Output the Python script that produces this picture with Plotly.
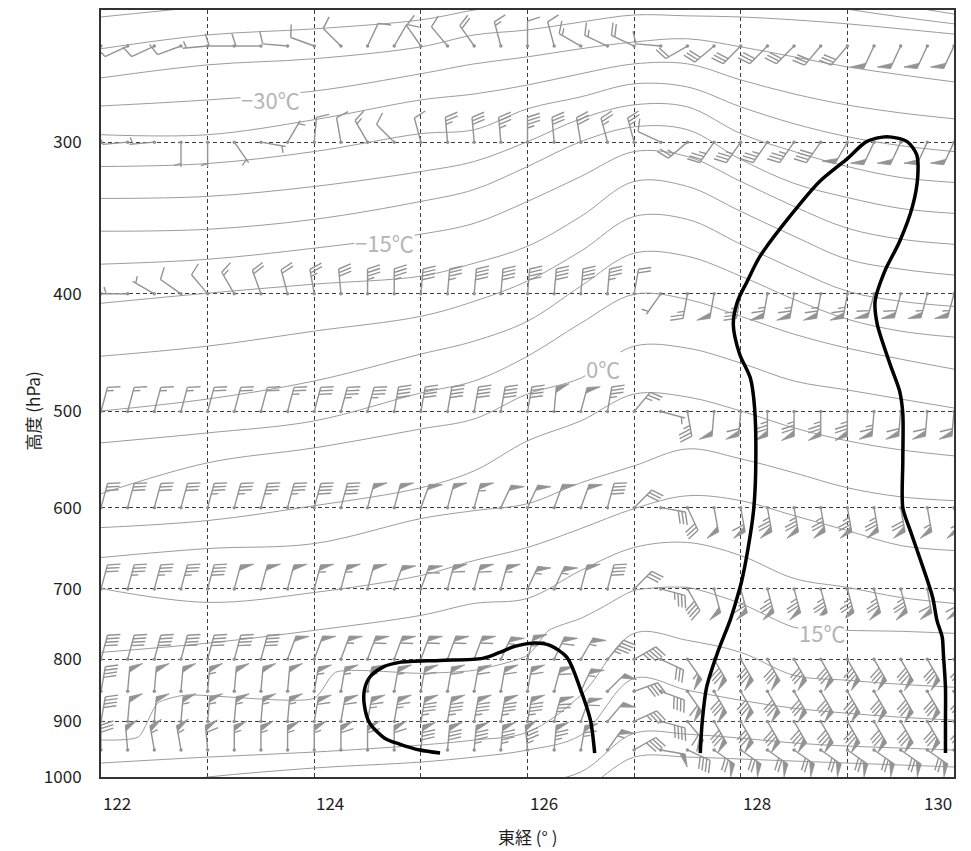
import math
import plotly.graph_objects as go

# ---------------- data ----------------
lon_grid = [122.0, 122.25, 122.5, 122.75, 123.0, 123.25, 123.5, 123.75, 124.0, 124.25, 124.5,
            124.75, 125.0, 125.25, 125.5, 125.75, 126.0, 126.25, 126.5, 126.75, 127.0, 127.25,
            127.5, 127.75, 128.0, 128.25, 128.5, 128.75, 129.0, 129.25, 129.5, 129.75, 130.0]
levels = [250, 300, 400, 500, 600, 700, 800, 850, 900, 950]

# wind barb direction (staff direction on screen, deg clockwise from up) and speed (kt)
dir_250 = [245,245,245,250,265,270,270,275,290,315,25,30,325,320,325,345,0,345,300,295,295,275,240,230,225,225,225,220,220,205,205,205,205]
spd_250 = [10,10,10,10,5,10,10,10,10,10,10,10,10,10,20,15,10,10,15,15,20,10,20,30,30,30,30,30,30,50,50,50,50]
dir_300 = [265,265,265,180,180,145,100,30,5,350,330,315,345,355,355,355,0,355,350,345,345,295,230,215,215,215,215,215,210,205,205,205,205]
spd_300 = [10,10,5,5,5,5,5,5,10,10,15,10,10,25,30,35,35,30,30,25,25,10,25,35,35,35,35,40,50,50,50,50,50]
dir_400 = [270,270,300,305,320,330,340,345,350,355,0,0,5,5,5,5,5,5,5,5,10,215,190,190,190,190,190,190,190,195,195,195,195]
spd_400 = [5,5,5,10,10,15,20,20,25,30,35,35,40,35,40,40,40,40,40,35,20,5,25,50,35,65,65,65,65,60,60,55,55]
dir_500 = [15,15,15,15,15,15,15,15,15,15,15,10,10,10,10,10,10,5,15,10,40,105,170,185,185,180,180,180,180,185,185,185,185]
spd_500 = [15,15,15,15,20,20,20,25,30,35,35,40,40,40,40,40,40,50,50,35,25,5,35,50,60,75,75,75,75,65,60,60,60]
dir_600 = [15,15,15,15,15,15,15,15,15,15,15,15,20,15,15,25,25,20,20,15,45,100,155,170,170,170,170,170,170,170,170,170,170]
spd_600 = [30,30,30,30,35,35,35,35,40,40,50,50,50,50,55,50,50,50,50,40,30,30,30,50,60,75,75,75,75,75,70,55,55]
dir_700 = [15,15,15,15,15,15,15,15,15,15,15,20,20,15,15,15,25,25,15,15,45,105,150,165,165,165,165,165,165,165,165,170,170]
spd_700 = [30,35,35,35,40,50,50,50,55,55,50,50,60,60,60,55,55,55,50,40,30,35,40,50,65,75,75,75,75,75,75,60,60]
dir_800 = [15,15,15,15,15,15,15,20,20,20,20,20,20,20,20,25,15,25,30,40,60,115,145,150,150,150,150,150,150,150,150,150,150]
spd_800 = [40,40,40,40,40,40,40,50,50,55,60,60,60,60,60,55,65,60,55,45,45,30,55,80,80,80,80,80,80,80,80,80,80]
dir_850 = [10,5,5,5,5,5,5,5,10,10,10,10,10,10,10,10,10,15,25,45,70,110,145,150,150,150,150,150,150,150,150,150,150]
spd_850 = [40,50,50,50,55,50,50,50,55,55,55,55,60,60,60,60,60,60,55,50,40,40,60,80,80,80,80,80,80,80,80,80,80]
dir_900 = [10,5,5,5,5,5,5,5,10,10,10,10,10,10,10,10,10,15,20,40,65,105,140,150,150,150,150,150,150,150,150,150,150]
spd_900 = [40,50,50,55,55,55,55,55,60,60,65,65,85,85,85,85,85,75,60,50,35,40,60,80,80,80,80,80,80,80,80,80,80]
dir_950 = [0,355,350,350,355,0,0,0,0,0,0,0,5,5,5,5,355,5,10,35,60,100,115,125,125,125,125,125,125,125,125,125,125]
spd_950 = [30,50,55,55,60,55,55,55,55,60,60,60,80,80,85,85,85,75,65,55,40,50,40,70,70,70,70,70,70,70,70,70,70]

# isotherms (every 3 degC): pressure (hPa) at these longitudes
iso_lon = [122, 123, 124, 125, 125.5, 126, 126.5, 127, 127.5, 128, 128.5, 129, 129.5, 130]
iso_m39 = [236.6, 231.9, 227.8, 223.6, 221.5, 219.4, 217.3, 215.3, 215.3, 217.3, 221.5, 226.5, 231.3, 235.3]
iso_m36 = [251.3, 244.8, 242.0, 237.9, 233.5, 230.0, 226.5, 223.6, 223.6, 224.8, 228.7, 233.1, 236.6, 239.7]
iso_m33 = [265.6, 259.1, 256.1, 250.4, 244.8, 242.5, 238.9, 235.7, 236.1, 236.6, 237.9, 239.7, 242.0, 244.4]
iso_m30 = [280.1, 276.9, 272.3, 263.5, 258.6, 255.2, 251.3, 248.1, 246.6, 250.4, 255.2, 260.1, 264.0, 267.6]
iso_m27 = [295.8, 295.8, 287.5, 276.9, 273.8, 269.2, 263.5, 258.6, 258.6, 266.6, 273.8, 279.6, 283.8, 287.0]
iso_m24 = [314.2, 312.4, 305.4, 295.2, 293.0, 281.6, 275.3, 268.6, 270.2, 280.6, 289.7, 296.9, 302.0, 305.4]
iso_m21 = [333.8, 332.5, 326.3, 317.2, 311.2, 299.7, 287.0, 279.5, 280.6, 295.2, 305.4, 314.2, 320.8, 323.8]
iso_m18 = [355.2, 353.9, 347.3, 335.7, 328.2, 314.2, 299.7, 291.4, 293.0, 310.0, 324.4, 333.2, 340.2, 343.4]
iso_m15 = [378.1, 374.6, 366.8, 357.2, 349.9, 335.7, 320.2, 305.4, 308.3, 323.2, 338.9, 353.2, 360.6, 364.1]
iso_m12 = [407.2, 399.5, 392.7, 386.8, 377.4, 365.5, 345.4, 323.2, 326.3, 342.1, 358.6, 374.6, 381.7, 386.0]
iso_m09 = [450.2, 441.7, 429.3, 417.4, 405.7, 390.4, 368.9, 345.4, 347.3, 364.1, 381.7, 398.0, 405.7, 409.6]
iso_m06 = [499.5, 488.3, 471.9, 448.4, 437.5, 421.3, 394.2, 370.3, 372.5, 386.8, 404.2, 419.7, 429.3, 434.2]
iso_m03 = [530.6, 520.7, 509.0, 482.7, 471.9, 450.2, 422.9, 400.3, 404.2, 417.4, 431.8, 443.4, 452.7, 461.4]
iso_p00 = [584.3, 551.1, 535.7, 516.8, 507.1, 483.7, 469.3, 441.7, 443.4, 456.1, 471.9, 480.0, 488.3, 496.7]
iso_p03 = [623.1, 614.9, 597.8, 577.8, 559.5, 528.6, 509.0, 483.7, 486.4, 499.5, 515.8, 528.6, 537.7, 543.9]
iso_p06 = [659.5, 648.4, 642.3, 612.6, 603.4, 595.5, 572.4, 554.3, 536.7, 546.9, 561.6, 577.8, 587.8, 592.1]
iso_p09 = [699.4, 718.1, 704.7, 682.4, 663.3, 647.1, 624.3, 601.1, 586.6, 592.1, 609.2, 626.7, 644.7, 650.8]
iso_p12 = [789.5, 775.8, 757.2, 736.0, 719.5, 712.7, 675.9, 647.1, 641.0, 657.1, 686.2, 698.0, 711.4, 719.5]
iso_p18 = [973.9, 962.9, 953.8, 941.2, 932.3, 918.5, 856.4, 761.5, 771.7, 789.5, 824.6, 832.4, 838.8, 843.5]
iso_p21 = [1024.8, 1000.0, 983.1, 972.0, 962.9, 950.2, 923.7, 829.3, 848.3, 864.6, 877.8, 886.1, 892.8, 897.8]
iso_p24 = [1044.3, 1044.3, 1040.4, 1028.7, 1021.0, 1013.3, 990.6, 920.3, 922.0, 928.9, 937.6, 943.0, 946.6, 950.2]
iso_p27 = [1044.3, 1044.3, 1044.3, 1044.3, 1044.3, 1040.4, 1024.8, 962.9, 962.9, 966.5, 970.2, 973.9, 977.5, 981.2]
# the 15 degC isotherm has step-like rises, so it gets its own longitudes
iso15_lon = [122, 122.35, 122.53, 122.78, 124.0, 124.2, 125, 125.5, 126, 126.2, 126.5, 126.7, 127, 127.5, 128, 128.5, 129, 129.5, 130]
iso_p15 = [932.3, 927.0, 869.5, 856.4, 861.3, 819.9, 821.5, 816.8, 794.0, 757.2, 740.2, 725.0, 702.0, 698.0, 719.5, 752.9, 757.2, 758.6, 761.5]

iso_label_text = ["\u221230\u2103", "\u221215\u2103", "0\u2103", "15\u2103"]
iso_label_lon = [123.59, 124.66, 126.71, 128.76]
iso_label_p = [276.3, 362.7, 460.5, 760.1]

# thick black contours
c1_lon = [125.18, 124.99, 124.80, 124.66, 124.52, 124.47, 124.47, 124.52, 124.64, 124.80, 125.18, 125.58, 125.74, 125.88, 126.05, 126.21, 126.37, 126.49, 126.59, 126.63]
c1_p = [955.6, 950.2, 939.5, 929.0, 902.9, 872.7, 848.3, 827.7, 812.2, 804.6, 801.6, 798.5, 789.5, 780.6, 775.8, 779.2, 797.0, 843.5, 897.7, 955.6]
c2_lon = [127.62, 127.64, 127.68, 127.78, 127.90, 127.95, 128.01, 128.07, 128.12, 128.14, 128.13, 128.09, 127.99, 127.93, 127.97, 128.06, 128.18,
          128.46, 128.74, 129.00, 129.18, 129.37, 129.56, 129.65, 129.66, 129.61, 129.49, 129.35, 129.26, 129.28, 129.40, 129.49, 129.52,
          129.52, 129.52, 129.59, 129.71, 129.80, 129.84, 129.89, 129.90, 129.92, 129.92, 129.92]
c2_p = [955.6, 897.8, 843.4, 791.0, 743.0, 719.5, 688.9, 647.2, 603.4, 559.4, 496.7, 469.3, 448.5, 423.7, 405.7, 390.7, 372.6,
        345.4, 323.2, 309.5, 299.7, 296.9, 299.7, 307.2, 320.2, 339.0, 362.2, 383.3, 405.7, 423.7, 457.0, 481.0, 502.3,
        548.9, 600.0, 626.7, 672.2, 711.4, 743.0, 767.4, 791.0, 843.4, 897.8, 955.6]

x_ticks = [122, 124, 126, 128, 130]
y_ticks = [300, 400, 500, 600, 700, 800, 900, 1000]

# ---------------- geometry ----------------
# the page body adds an 8 px offset; margins below compensate for it
W, H = 971, 851
ML, MR, MT, MB = 93, 25, 0, 82
LON0, LON1 = 122.0, 130.0
P_BOT = 1000.0
PX_DEC = 1217.3
PLOT_H = H - MT - MB
P_TOP = 10 ** (math.log10(P_BOT) - PLOT_H / PX_DEC)
PX_DEG = (W - ML - MR) / (LON1 - LON0)

GRAY = "#939393"
L_STAFF, FL, SP, FW = 25.0, 13.0, 3.6, 6.0
FANG = 72.0


def offset(lon, p, dx, dy):
    return lon + dx / PX_DEG, 10 ** (math.log10(p) - dy / PX_DEC)


seg_x, seg_y, flag_x, flag_y, dot_x, dot_y = [], [], [], [], [], []


def add_seg(pts, xs, ys):
    for a, b in pts:
        xs.append(a)
        ys.append(b)
    xs.append(None)
    ys.append(None)


def barb(lon, p, d, spd):
    th = math.radians(d)
    ux, uy = math.sin(th), math.cos(th)
    ft = math.radians(d + FANG)
    fx, fy = math.sin(ft), math.cos(ft)
    add_seg([offset(lon, p, 0, 0), offset(lon, p, L_STAFF * ux, L_STAFF * uy)], seg_x, seg_y)
    n50 = spd // 50
    rem = spd - 50 * n50
    n10 = rem // 10
    rem -= 10 * n10
    n5 = 1 if rem >= 5 else 0
    pos = 0.0
    for _ in range(n50):
        a = L_STAFF - pos
        b = a - FW
        add_seg([offset(lon, p, a * ux, a * uy),
                 offset(lon, p, a * ux + FL * fx, a * uy + FL * fy),
                 offset(lon, p, b * ux, b * uy)], flag_x, flag_y)
        pos += FW + 1.6
    for _ in range(n10):
        a = L_STAFF - pos
        add_seg([offset(lon, p, a * ux, a * uy),
                 offset(lon, p, a * ux + FL * fx, a * uy + FL * fy)], seg_x, seg_y)
        pos += SP
    if n5:
        if n50 == 0 and n10 == 0:
            pos = SP
        a = L_STAFF - pos
        add_seg([offset(lon, p, a * ux, a * uy),
                 offset(lon, p, a * ux + 0.55 * FL * fx, a * uy + 0.55 * FL * fy)], seg_x, seg_y)
    dot_x.append(lon)
    dot_y.append(p)


rows = [(250, dir_250, spd_250), (300, dir_300, spd_300), (400, dir_400, spd_400),
        (500, dir_500, spd_500), (600, dir_600, spd_600), (700, dir_700, spd_700),
        (800, dir_800, spd_800), (850, dir_850, spd_850), (900, dir_900, spd_900),
        (950, dir_950, spd_950)]
for lev, dirs, spds in rows:
    for lon, d, s in zip(lon_grid, dirs, spds):
        barb(lon, lev, d, s)

fig = go.Figure()

isos = [iso_m39, iso_m36, iso_m33, iso_m30, iso_m27, iso_m24, iso_m21, iso_m18, iso_m15, iso_m12,
        iso_m09, iso_m06, iso_m03, iso_p00, iso_p03, iso_p06, iso_p09, iso_p12,
        iso_p18, iso_p21, iso_p24, iso_p27]
ISO_STYLE = dict(color="#9c9c9c", width=1, shape="spline", smoothing=1.0)
for ps in isos:
    fig.add_trace(go.Scatter(x=iso_lon, y=ps, mode="lines", line=ISO_STYLE, hoverinfo="skip"))
fig.add_trace(go.Scatter(x=iso15_lon, y=iso_p15, mode="lines",
                         line=dict(color="#9c9c9c", width=1, shape="spline", smoothing=0.6),
                         hoverinfo="skip"))

fig.add_trace(go.Scatter(x=seg_x, y=seg_y, mode="lines", line=dict(color=GRAY, width=1.4),
                         hoverinfo="skip"))
fig.add_trace(go.Scatter(x=flag_x, y=flag_y, mode="lines", fill="toself", fillcolor=GRAY,
                         line=dict(color=GRAY, width=0.8), hoverinfo="skip"))
fig.add_trace(go.Scatter(x=dot_x, y=dot_y, mode="markers", marker=dict(color=GRAY, size=3.5),
                         hoverinfo="skip"))

for cx, cy in [(c1_lon, c1_p), (c2_lon, c2_p)]:
    fig.add_trace(go.Scatter(x=cx, y=cy, mode="lines",
                             line=dict(color="black", width=3.5, shape="spline", smoothing=0.8),
                             hoverinfo="skip"))

FONT = "Noto Sans CJK JP"
TXT = "#1e1e1e"
PW = W - ML - MR
ann = []
for t, lo, pp in zip(iso_label_text, iso_label_lon, iso_label_p):
    ann.append(dict(x=lo, y=math.log10(pp), xref="x", yref="y", text=t, showarrow=False,
                    font=dict(family=FONT, size=22, color="#b5b5b5"), bgcolor="white", borderpad=0))
for v in x_ticks:
    ann.append(dict(x=v, y=0, xref="x", yref="paper", text=str(v), showarrow=False,
                    xanchor="right" if v == x_ticks[-1] else "left", yanchor="top", yshift=-11,
                    font=dict(family=FONT, size=17, color=TXT)))
ann.append(dict(x=(519 - ML) / PW, y=0, xref="paper", yref="paper", text="東経 (° )",
                showarrow=False, yanchor="top", yshift=-45, font=dict(family=FONT, size=17, color=TXT)))
ann.append(dict(x=(10 - ML) / PW, y=(769 - 402) / PLOT_H, xref="paper", yref="paper",
                text="高度 (hPa)", textangle=-90, showarrow=False,
                font=dict(family=FONT, size=17, color=TXT)))

fig.update_layout(
    width=W, height=H, margin=dict(l=ML, r=MR, t=MT, b=MB, pad=0),
    plot_bgcolor="white", paper_bgcolor="white", showlegend=False,
    font=dict(family=FONT, size=17, color=TXT),
    annotations=ann,
    xaxis=dict(range=[LON0, LON1], tickvals=list(range(122, 131)), showticklabels=False,
               showgrid=True, gridcolor="#3c3c3c", gridwidth=1, griddash="4px,3px",
               zeroline=False, showline=True, mirror=True, linecolor="#333", linewidth=2, ticks=""),
    yaxis=dict(type="log", range=[math.log10(P_BOT), math.log10(P_TOP)], tickvals=y_ticks,
               ticktext=[str(v) for v in y_ticks], showgrid=True, gridcolor="#3c3c3c", gridwidth=1,
               griddash="4px,3px", zeroline=False, showline=True, mirror=True, linecolor="#333",
               linewidth=2, ticks="outside", ticklen=14, tickcolor="rgba(0,0,0,0)",
               tickfont=dict(family=FONT, size=17, color=TXT)),
)

fig.write_html("out.html")
